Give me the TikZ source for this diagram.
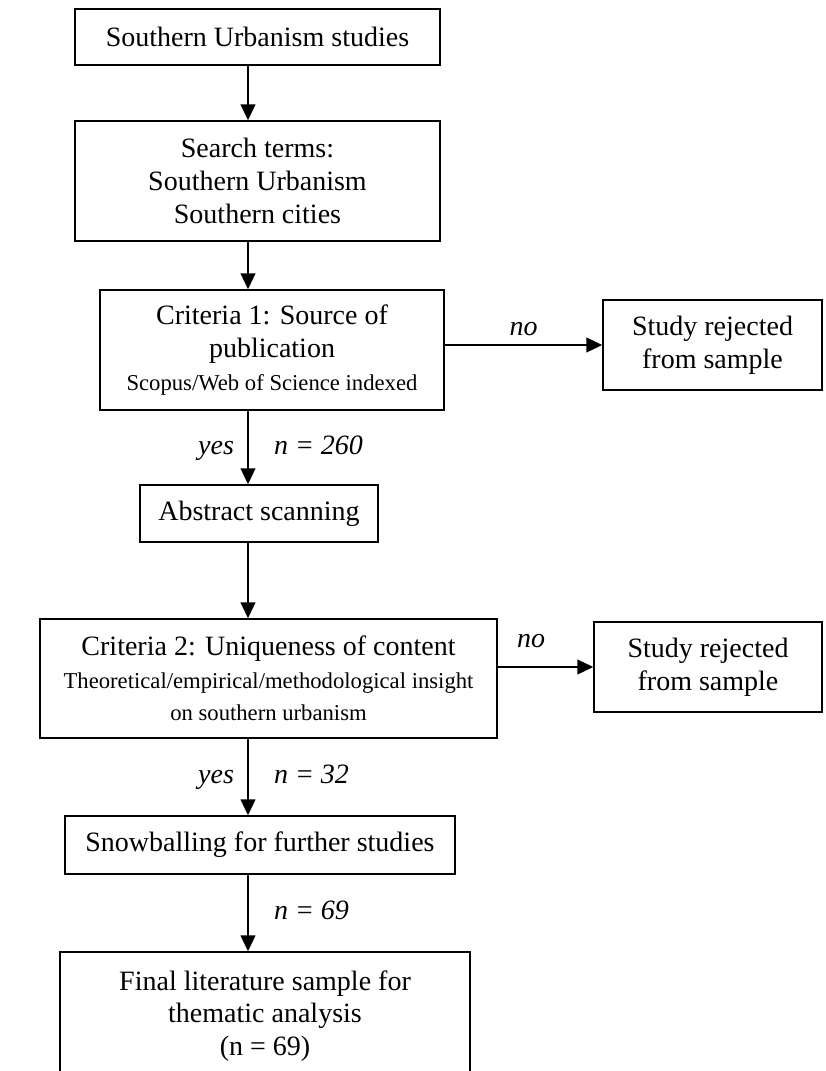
\documentclass[tikz,border=0pt]{standalone}
\usepackage{fontspec}
\setmainfont{Liberation Serif}
\usetikzlibrary{arrows.meta}

\begin{document}
\begin{tikzpicture}[x=0.75pt,y=0.75pt,yscale=-1,xscale=1,
    stagebox/.style={draw, line width=1pt, align=center, inner sep=0.75pt, font=\fontsize{21}{24.5}\selectfont},
    flowline/.style={line width=1.5pt, -{Triangle[length=12pt,width=11pt]}},
    flowtag/.style={inner sep=0.75pt, text height=14pt, text depth=4pt, font=\fontsize{21}{24.5}\selectfont\itshape}]
    \useasboundingbox (0,0) rectangle (825,1071);
    \coordinate (spine) at (248,0);
    % boxes down the main column
    \draw (257.5,37) node [stagebox, minimum width=273.75pt, minimum height=42pt] (studies) {Southern Urbanism studies};
    \draw (257.5,181) node [stagebox, minimum width=273.75pt, minimum height=90pt] (terms) {Search terms:\\Southern Urbanism\\Southern cities};
    \draw (272,350) node [stagebox, minimum width=258pt, minimum height=90pt] (source) {Criteria 1: Source of\\publication\\{\fontsize{17}{20}\selectfont Scopus/Web of Science indexed}};
    \draw (259,513.5) node [stagebox, minimum width=178.5pt, minimum height=42.75pt] (scan) {Abstract scanning};
    \draw (268.5,678.5) node [stagebox, minimum width=342.75pt, minimum height=89.25pt] (unique) {Criteria 2: Uniqueness of content\\{\fontsize{17}{20}\selectfont Theoretical/empirical/methodological insight}\\{\fontsize{17}{20}\selectfont on southern urbanism}};
    \draw (260,845) node [stagebox, minimum width=292.5pt, minimum height=43.5pt] (snowball) {Snowballing for further studies};
    \draw (265,1016) node [stagebox, minimum width=307.5pt, minimum height=96pt] (final) {Final literature sample for\\thematic analysis\\(n = 69)};
    % rejected studies
    \draw (712.5,345) node [stagebox, minimum width=164.25pt, minimum height=67.5pt] (reject1) {Study rejected\\from sample};
    \draw (708,667) node [stagebox, minimum width=171pt, minimum height=67.5pt] (reject2) {Study rejected\\from sample};
    % arrows
    \draw [flowline] (studies.south -| spine) -- (terms.north -| spine);
    \draw [flowline] (terms.south -| spine) -- (source.north -| spine);
    \draw [flowline] (source.south -| spine) -- node [flowtag, left=9pt] (yes1) {yes} node [flowtag, right=18pt] (n260) {n = 260} (scan.north -| spine);
    \draw [flowline] (scan.south -| spine) -- (unique.north -| spine);
    \draw [flowline] (unique.south -| spine) -- node [flowtag, left=9pt] (yes2) {yes} node [flowtag, right=18pt] (n32) {n = 32} (snowball.north -| spine);
    \draw [flowline] (snowball.south -| spine) -- node [flowtag, right=18pt] (n69) {n = 69} (final.north -| spine);
    \draw [flowline] (source.east |- reject1.west) -- node [flowtag, above=2pt] (no1) {no} (reject1.west);
    \draw [flowline] (unique.east |- reject2.west) -- node [flowtag, pos=0.35, above=9pt] (no2) {no} (reject2.west);
\end{tikzpicture}
\end{document}
